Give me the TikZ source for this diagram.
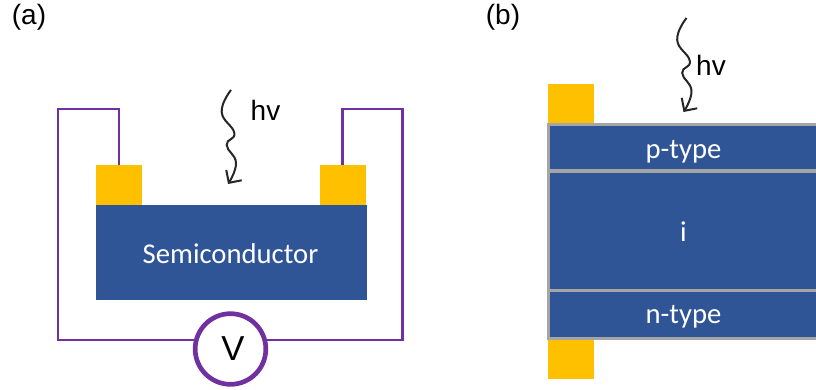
\documentclass[tikz,border=0pt]{standalone}
\usepackage{fontspec}
\setmainfont{Liberation Sans}
\newfontfamily\bodyfont{Carlito}
\usepackage{tikz}
\usetikzlibrary{arrows.meta}
\definecolor{layerblue}{HTML}{2F5597}
\definecolor{contactgold}{HTML}{FFC000}
\definecolor{wirepurple}{HTML}{7030A0}
\definecolor{edgegray}{HTML}{A5A5A5}

\begin{document}
\begin{tikzpicture}[
        x=0.75pt,
        y=-0.75pt,
        contact/.style={
          fill=contactgold,
          inner sep=0pt,
          minimum width=34.5pt,
          minimum height=30pt
        },
        slab/.style={
          fill=layerblue,
          inner sep=0pt
        },
        layer/.style={
          slab,
          draw=edgegray,
          line width=2.5pt,
          minimum width=225pt,
          anchor=west
        },
        slabtext/.style={text=white,inner sep=0pt,font=\bodyfont\fontsize{21.5}{21.5}\selectfont},
        wire/.style={draw=wirepurple,line width=1.6pt,line join=miter},
        wave/.style={
          draw=black!85,
          line width=1.5pt,
          -{Straight Barb[length=7pt,width=14pt,line width=1.5pt]}
        },
        lbl/.style={inner sep=0pt,font=\fontsize{21}{21}\selectfont}
      ]
      \clip (0,0) rectangle (816,389);

      % (a) Semiconductor with two top contacts
      \node[slab,minimum width=203pt,minimum height=71.5pt] (semi) at (231.25,252.5) {};
      \node[slabtext] (semitext) at (230.5,253.5) {Semiconductor};
      \node[contact] (contl) at (118.75,185) {};
      \node[contact] (contr) at (342.5,185) {};

      % wires and meter
      \node[circle,draw=wirepurple,line width=3.5pt,fill=white,minimum size=53pt,inner sep=0pt,font=\fontsize{26}{26}\selectfont] (meter) at (230.5,349) {\hspace{3.5pt}V};
      \coordinate (wiretl) at (contl.north |- 0,109);
      \coordinate (wirecl) at (58,109);
      \coordinate (wirebl) at (58,340);
      \coordinate (wiretr) at (contr.north |- 0,109);
      \coordinate (wirecr) at (402.5,109);
      \coordinate (wirebr) at (402.5,340);
      \draw[wire] (contl.north) -- (wiretl) -- (wirecl) -- (wirebl) -- (wirebl -| meter.165);
      \draw[wire] (contr.north) -- (wiretr) -- (wirecr) -- (wirebr) -- (wirebr -| meter.15);

      % (b) p-i-n stack
      \node[contact] (contt) at (570.7,104.2) {};
      \node[contact] (contb) at (570.7,359) {};
      \node[layer,minimum height=34.8pt] (ptype) at (547,147.8) {};
      \node[layer,minimum height=35.8pt] (ntype) at (547,314.3) {};
      \node[layer,minimum height=89.5pt] (itype) at (547,230.7) {};
      \node[slabtext] (ptext) at (683.5,152) {p-type};
      \node[slabtext] (itext) at (683.5,232) {i};
      \node[slabtext] (ntext) at (683.5,317) {n-type};

      % light arrows
      \foreach \xs/\ys in {0/0,455.5/-72} {
        \begin{scope}[shift={(\xs,\ys)}]
          \draw[wave] plot[smooth,tension=0.8] coordinates {(231,90) (221.7,112) (234.3,133) (226.7,145) (236,163) (228,184)};
        \end{scope}
      }

      % labels
      \node[lbl] (hva) at (265.5,110) {hv};
      \node[lbl] (hvb) at (711,65) {hv};
      \node[lbl] (tagA) at (29,17) {(a)};
      \node[lbl] (tagB) at (503,17) {(b)};
    \end{tikzpicture}
\end{document}
